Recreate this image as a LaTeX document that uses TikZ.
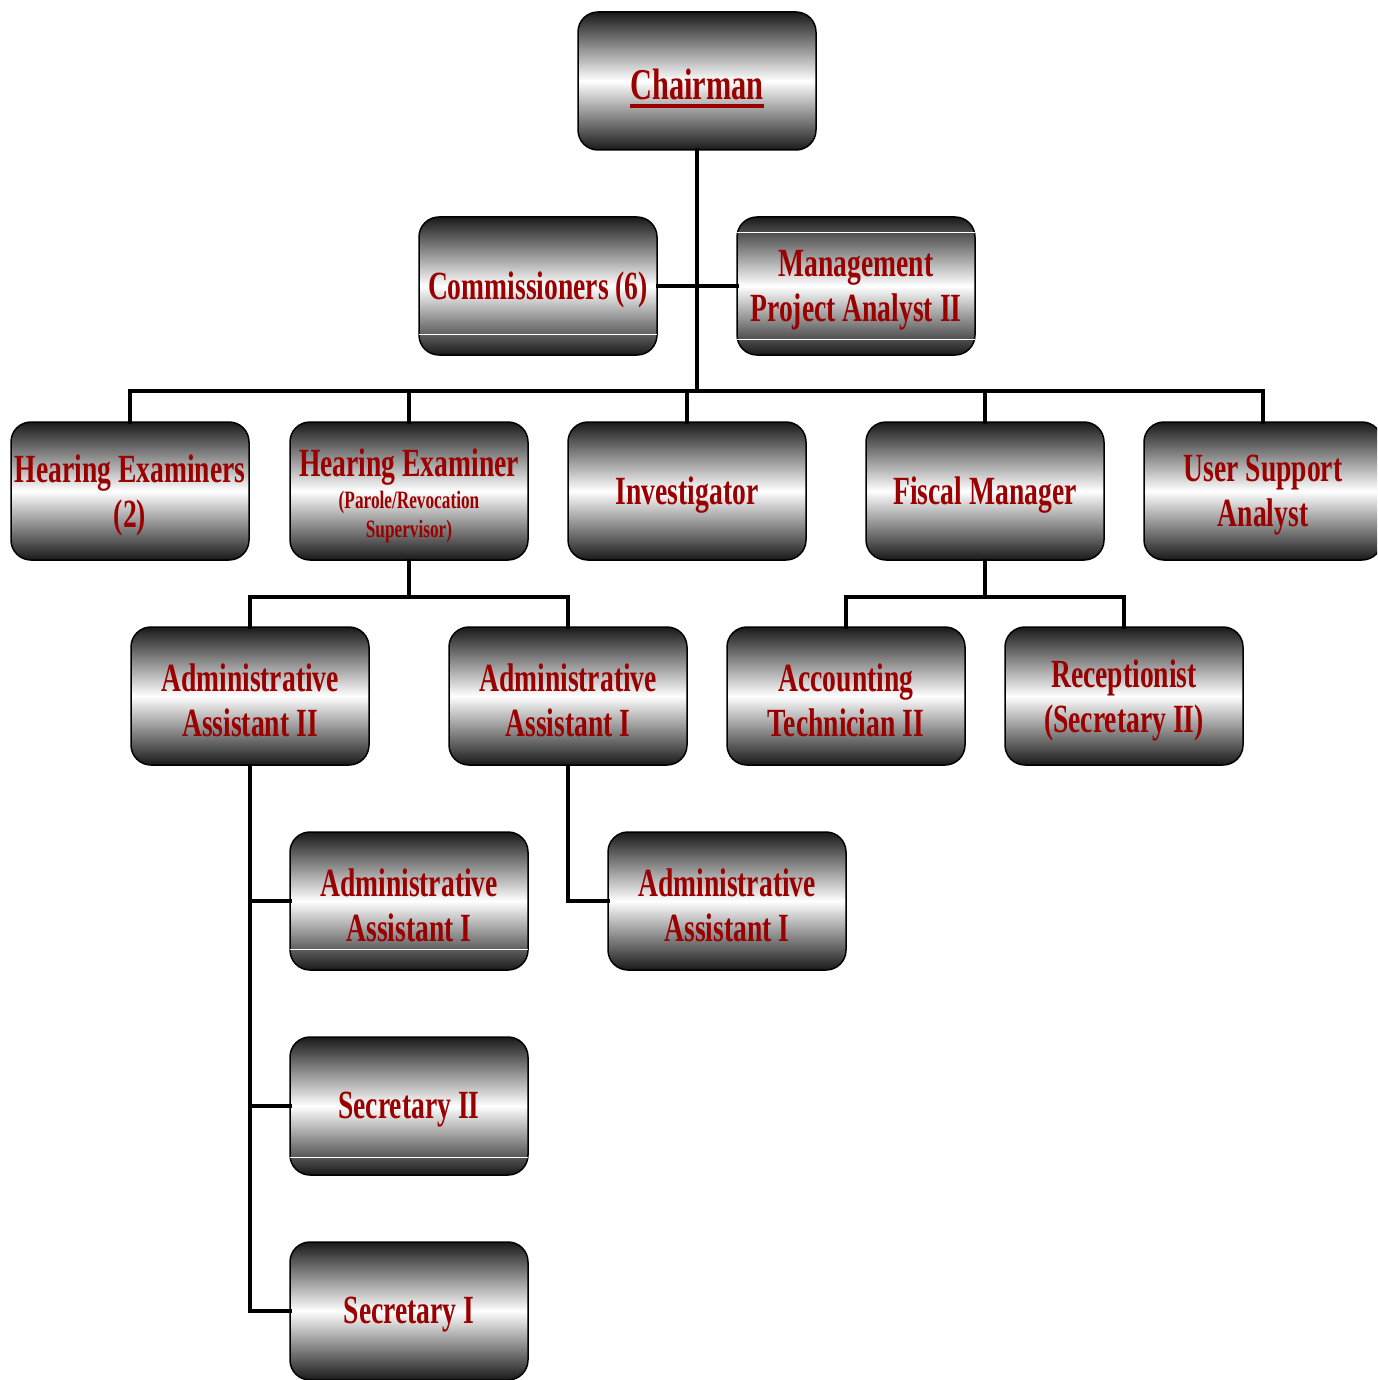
\documentclass[tikz,border=0pt]{standalone}
\usepackage{fontspec}
\newfontfamily\cond{Liberation Serif}[FakeStretch=0.69]
\definecolor{dred}{RGB}{155,0,0}
\definecolor{shade}{RGB}{25,25,25}
\begin{document}
\begin{tikzpicture}[x=1pt,y=-1pt,
  box/.style={rectangle, rounded corners=20pt, draw=black, line width=1.5pt,
    minimum width=238pt, minimum height=138pt, inner sep=0pt,
    top color=shade, bottom color=shade, middle color=white,
    label={[lbl]center:#1}},
  lbl/.style={align=center, text=dred, inner sep=0pt, yshift=-4pt,
    font=\cond\bfseries\fontsize{40}{45}\selectfont},
  conn/.style={line width=4.5pt, draw=black, line cap=rect},
  glint/.style={draw=white, line width=1.2pt},
  small/.style={font=\cond\bfseries\fontsize{25}{29}\selectfont}]
\useasboundingbox (0,0) rectangle (1377,1380);
\clip (0,0) rectangle (1377,1380);
\fill[white] (0,0) rectangle (1377,1380);

% nodes
\node[box={}] (chair) at (697,81) {};
\node[text=dred, font=\cond\bfseries\fontsize{44}{50}\selectfont, inner sep=0pt] (chairtxt) at (697,84) {Chairman};
\node[box={Commissioners (6)}] (comm) at (538,286) {};
\node[box={Management\\Project Analyst II}] (mgmt) at (856,286) {};

\node[box={Hearing Examiners\\(2)}] (hes) at (130,491) {};
\node[box={}] (her) at (409,491) {};
\node[lbl, yshift=4pt] (hertxt) at (409,467) {Hearing Examiner};
\node[text=dred, small, align=center, inner sep=0pt] (hersub) at (409,517) {(Parole/Revocation\\Supervisor)};
\node[box={Investigator}] (inv) at (687,491) {};
\node[box={Fiscal Manager}] (fis) at (985,491) {};
\node[box={User Support\\Analyst}] (usa) at (1263,491) {};

\node[box={Administrative\\Assistant II}] (aa2) at (250,696) {};
\node[box={Administrative\\Assistant I}] (aa1) at (568,696) {};
\node[box={Accounting\\Technician II}] (acc) at (846,696) {};
\node[box={Receptionist\\(Secretary II)}] (rec) at (1124,696) {};

\node[box={Administrative\\Assistant I}] (aa1a) at (409,901) {};
\node[box={Administrative\\Assistant I}] (aa1b) at (727,901) {};
\node[box={Secretary II}] (sec2) at (409,1106) {};
\node[box={Secretary I}] (sec1) at (409,1311) {};

% underline of Chairman
\draw[dred, line width=4pt] ([yshift=-7pt]chairtxt.base west) -- ([yshift=-7pt]chairtxt.base east);

% white glints
\draw[glint] ([yshift=21pt,xshift=1pt]comm.south west) -- ([yshift=21pt,xshift=-1pt]comm.south east);
\draw[glint] ([yshift=-16pt,xshift=1pt]mgmt.north west) -- ([yshift=-16pt,xshift=-1pt]mgmt.north east);
\draw[glint] ([yshift=16pt,xshift=1pt]mgmt.south west) -- ([yshift=16pt,xshift=-1pt]mgmt.south east);
\draw[glint] ([yshift=21pt,xshift=1pt]aa1a.south west) -- ([yshift=21pt,xshift=-1pt]aa1a.south east);
\draw[glint] ([yshift=18pt,xshift=1pt]sec2.south west) -- ([yshift=18pt,xshift=-1pt]sec2.south east);

% connectors
\coordinate (bus) at (697,391);
\coordinate (hebus) at (409,597);
\coordinate (fbus) at (985,597);
\draw[conn] (chair.south) -- (chair.south |- bus);
\draw[conn] (comm.east) -- (mgmt.west);
\draw[conn] (hes.north) -- (hes.north |- bus) -- (usa.north |- bus) -- (usa.north);
\draw[conn] (her.north) -- (her.north |- bus);
\draw[conn] (inv.north) -- (inv.north |- bus);
\draw[conn] (fis.north) -- (fis.north |- bus);

\draw[conn] (her.south) -- (hebus);
\draw[conn] (aa2.north) -- (aa2.north |- hebus) -- (aa1.north |- hebus) -- (aa1.north);
\draw[conn] (fis.south) -- (fbus);
\draw[conn] (acc.north) -- (acc.north |- fbus) -- (rec.north |- fbus) -- (rec.north);

\draw[conn] (aa2.south) -- (aa2.south |- sec1.west) -- (sec1.west);
\draw[conn] (aa2.south |- aa1a.west) -- (aa1a.west);
\draw[conn] (aa2.south |- sec2.west) -- (sec2.west);
\draw[conn] (aa1.south) -- (aa1.south |- aa1b.west) -- (aa1b.west);
\end{tikzpicture}
\end{document}
